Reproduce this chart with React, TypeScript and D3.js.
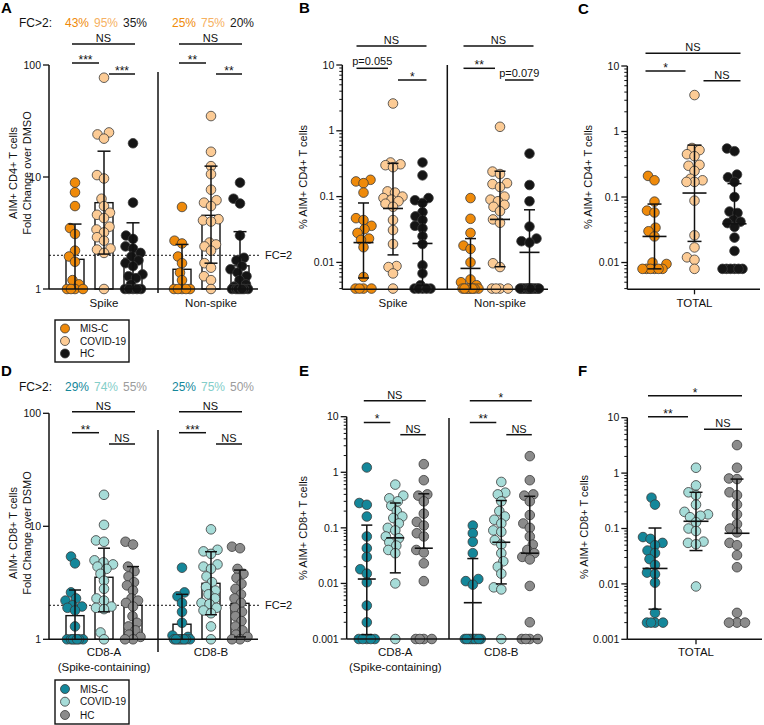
import React from "react";
import * as d3 from "d3";

// ---------------- shared ----------------
const groupNames = ["MIS-C", "COVID-19", "HC"];
const cd4Colors = ["#EF8A0A", "#FCCB95", "#151515"];
const cd8Colors = ["#14879A", "#A6DCD8", "#8B8B8B"];
const cd4PctColors = ["#EF8A0A", "#F6B162", "#1a1a1a"];
const cd8PctColors = ["#14879A", "#84CEC9", "#9C9C9C"];

// ---------------- Panel A (CD4 fold change) ----------------
const aCategories = ["Spike", "Non-spike"];
const aFcPct = [["43%", "95%", "35%"], ["25%", "75%", "20%"]];
const aSpikeMISC = [8.9, 7.3, 5.5, 3.5, 3.1, 2.2, 1.95, 1.75, 1.2, 1.1, 1, 1, 1, 1];
const aSpikeCOVID = [77, 25, 24, 22, 10.4, 9.7, 6.4, 5.5, 4.8, 4.6, 4.3, 3.6, 3.4, 3.2, 2.9, 2.7, 2.3, 2.25, 2.1, 1.0];
const aSpikeHC = [20, 5.9, 3.0, 2.8, 2.4, 2.3, 2.1, 1.95, 1.8, 1.7, 1.6, 1.35, 1.3, 1.25, 1.1, 1, 1, 1, 1, 1];
const aNonMISC = [5.4, 2.7, 2.55, 1.95, 1.7, 1.4, 1.2, 1, 1, 1, 1, 1];
const aNonCOVID = [35, 16.8, 12.5, 10.6, 7.7, 6.2, 5.9, 5.5, 4.2, 4.1, 4.0, 2.6, 2.5, 2.4, 2.2, 1.7, 1.55, 1.3, 1.2, 1.0];
const aNonHC = [8.9, 6.4, 5.8, 3.0, 1.9, 1.8, 1.6, 1.5, 1.4, 1.3, 1.2, 1.1, 1.05, 1, 1, 1, 1, 1, 1, 1];
const aMean = [[1.84, 5.9, 1.88], [1.5, 4.55, 1.61]];
const aHigh = [[3.8, 17, 3.9], [2.5, 12.5, 3.25]];
const aLow = [[0.89, 2.05, 0.9], [0.9, 1.7, 0.8]];
const aSig = [["NS", "***", "***"], ["NS", "**", "**"]];
const aTicks = [1, 10, 100];
const aTickLabels = ["1", "10", "100"];

// ---------------- Panel B (% AIM+ CD4) ----------------
const bCategories = ["Spike", "Non-spike"];
const bSpikeMISC = [0.18, 0.17, 0.16, 0.115, 0.047, 0.044, 0.036, 0.032, 0.028, 0.023, 0.022, 0.017, 0.006, 0.004, 0.004, 0.004, 0.004];
const bSpikeCOVID = [2.6, 0.33, 0.31, 0.3, 0.28, 0.12, 0.115, 0.1, 0.095, 0.09, 0.085, 0.078, 0.07, 0.044, 0.031, 0.019, 0.0088, 0.0085, 0.0068, 0.004];
const bSpikeHC = [0.33, 0.21, 0.095, 0.088, 0.08, 0.058, 0.05, 0.044, 0.036, 0.033, 0.025, 0.019, 0.009, 0.0068, 0.0045, 0.004, 0.004, 0.004, 0.004, 0.004];
const bNonMISC = [0.095, 0.046, 0.028, 0.018, 0.016, 0.01, 0.0055, 0.005, 0.0045, 0.004, 0.004, 0.004, 0.004, 0.004, 0.004, 0.004, 0.004];
const bNonCOVID = [1.15, 0.24, 0.22, 0.16, 0.155, 0.14, 0.1, 0.09, 0.085, 0.075, 0.07, 0.06, 0.045, 0.04, 0.0097, 0.0085, 0.004, 0.004, 0.004, 0.004];
const bNonHC = [0.45, 0.15, 0.085, 0.035, 0.023, 0.021, 0.02, 0.004, 0.004, 0.004, 0.004, 0.004, 0.004, 0.004, 0.004, 0.004, 0.004, 0.004, 0.004, 0.004];
const bMid = [[0.02, 0.066, 0.0194], [0.0081, 0.045, 0.0142]];
const bHigh = [[0.08, 0.32, 0.083], [0.023, 0.243, 0.063]];
const bLow = [[0.0058, 0.013, 0.0045], [0.003, 0.0086, 0.003]];
const bSig = [["NS", "p=0.055", "*"], ["NS", "**", "p=0.079"]];
const bTicks = [0.01, 0.1, 1, 10];
const bTickLabels = ["0.01", "0.1", "1", "10"];

// ---------------- Panel C (% AIM+ CD4 total) ----------------
const cCategories = ["TOTAL"];
const cMISC = [0.21, 0.18, 0.085, 0.062, 0.058, 0.034, 0.03, 0.025, 0.01, 0.0095, 0.008, 0.008, 0.008, 0.008, 0.008, 0.008];
const cCOVID = [3.6, 0.56, 0.52, 0.45, 0.42, 0.31, 0.3, 0.25, 0.19, 0.18, 0.17, 0.17, 0.088, 0.026, 0.017, 0.012, 0.011, 0.008];
const cHC = [0.55, 0.5, 0.22, 0.2, 0.17, 0.1, 0.06, 0.057, 0.045, 0.042, 0.04, 0.035, 0.024, 0.015, 0.008, 0.008, 0.008, 0.008, 0.008, 0.008];
const cMid = [[0.025, 0.115, 0.039]];
const cHigh = [[0.078, 0.62, 0.16]];
const cLow = [[0.008, 0.021, null]];
const cSig = [["NS", "*", "NS"]];

// ---------------- Panel D (CD8 fold change) ----------------
const dCategories = ["CD8-A", "CD8-B"];
const dCategoryLabels = [["CD8-A", "(Spike-containing)"], ["CD8-B"]];
const dFcPct = [["29%", "74%", "55%"], ["25%", "75%", "50%"]];
const dAMISC = [5.4, 4.7, 2.6, 2.3, 2.2, 2.0, 1.95, 1.9, 1.8, 1.3, 1, 1, 1, 1, 1, 1, 1];
const dACOVID = [19, 10.3, 7.5, 7.3, 5.0, 4.8, 4.6, 4.4, 4.2, 3.8, 3.3, 2.8, 2.3, 2.2, 1.95, 1.9, 1.85, 1.15, 1.0];
const dAHC = [7.3, 6.9, 4.4, 4.0, 3.6, 3.2, 3.0, 2.7, 2.3, 2.2, 2.1, 1.95, 1.6, 1.4, 1.3, 1.2, 1.1, 1.05, 1, 1];
const dBMISC = [4.3, 2.6, 2.4, 2.1, 1.75, 1.4, 1.08, 1.05, 1, 1, 1, 1, 1, 1, 1, 1];
const dBCOVID = [9.4, 6.2, 6.0, 5.7, 4.6, 4.4, 4.2, 3.6, 3.2, 2.9, 2.7, 2.5, 2.3, 2.1, 2.05, 1.9, 1.8, 1.7, 1.3, 1.0];
const dBHC = [6.6, 6.4, 4.2, 3.8, 3.5, 3.1, 2.8, 2.5, 2.3, 2.1, 1.9, 1.75, 1.6, 1.45, 1.3, 1.2, 1.1, 1.05, 1, 1];
const dMean = [[1.62, 3.54, 2.0], [1.36, 3.13, 2.08]];
const dHigh = [[2.73, 6.4, 4.4], [2.5, 5.96, 4.1]];
const dLow = [[0.96, 1.75, 0.9], [0.74, 1.65, 1.05]];
const dSig = [["NS", "**", "NS"], ["NS", "***", "NS"]];

// ---------------- Panel E (% AIM+ CD8) ----------------
const eAMISC = [1.22, 0.28, 0.26, 0.16, 0.07, 0.043, 0.03, 0.018, 0.015, 0.0105, 0.004, 0.002, 0.001, 0.001, 0.001, 0.001, 0.001];
const eACOVID = [0.6, 0.38, 0.34, 0.3, 0.25, 0.2, 0.16, 0.15, 0.12, 0.1, 0.09, 0.07, 0.065, 0.055, 0.048, 0.04, 0.035, 0.01, 0.001];
const eAHC = [1.4, 0.72, 0.4, 0.38, 0.3, 0.18, 0.128, 0.11, 0.08, 0.07, 0.04, 0.036, 0.023, 0.011, 0.001, 0.001, 0.001, 0.001];
const eBMISC = [0.11, 0.08, 0.056, 0.035, 0.012, 0.011, 0.0095, 0.001, 0.001, 0.001, 0.001, 0.001, 0.001, 0.001, 0.001, 0.001];
const eBCOVID = [0.67, 0.43, 0.4, 0.3, 0.2, 0.16, 0.14, 0.12, 0.09, 0.085, 0.06, 0.05, 0.035, 0.025, 0.02, 0.015, 0.0085, 0.0078, 0.001];
const eBHC = [1.95, 0.72, 0.4, 0.38, 0.3, 0.17, 0.12, 0.1, 0.07, 0.05, 0.04, 0.035, 0.03, 0.027, 0.009, 0.002, 0.001, 0.001, 0.001, 0.001];
const eMid = [[0.012, 0.066, 0.043], [0.0045, 0.055, 0.035]];
const eHigh = [[0.112, 0.28, 0.41], [0.028, 0.31, 0.37]];
const eLow = [[0.0012, 0.0155, null], [0.001, 0.0098, null]];
const eSig = [["NS", "*", "NS"], ["*", "**", "NS"]];
const eTicks = [0.001, 0.01, 0.1, 1, 10];
const eTickLabels = ["0.001", "0.01", "0.1", "1", "10"];

// ---------------- Panel F (% AIM+ CD8 total) ----------------
const fMISC = [0.36, 0.27, 0.07, 0.065, 0.055, 0.05, 0.04, 0.036, 0.028, 0.022, 0.016, 0.015, 0.0105, 0.003, 0.002, 0.002, 0.002, 0.002];
const fCOVID = [1.25, 0.6, 0.45, 0.4, 0.27, 0.2, 0.18, 0.17, 0.16, 0.13, 0.1, 0.09, 0.058, 0.055, 0.052, 0.009];
const fHC = [3.2, 1.25, 0.8, 0.78, 0.45, 0.4, 0.27, 0.18, 0.12, 0.1, 0.085, 0.055, 0.05, 0.033, 0.02, 0.003, 0.002, 0.002, 0.002];
const fMid = [[0.019, 0.135, 0.082]];
const fHigh = [[0.102, 0.45, 0.78]];
const fLow = [[0.0035, 0.04, null]];
const fSig = [["*", "**", "NS"]];

// ================= layout / rendering =================
const FONT = "'Liberation Sans', Arial, Helvetica, sans-serif";

type Panel = {
  letter: string;
  letterPos: [number, number];
  yDomain: [number, number];
  yRange: [number, number];
  xAxis: [number, number];
  catNames: string[];
  catLabels: string[][];
  catRange: [number, number];
  spread: number;
  values: number[][][];
  centers: number[][];
  highs: (number | null)[][];
  lows: (number | null)[][];
  kind: "bar" | "median";
  colors: string[];
  tickValues: number[];
  tickLabels: string[];
  minor: boolean;
  divider: [number, number, number] | null;
  sigLabels: string[][];
  sigLevels: [number, number, number];
  sigPad: [number, number, number];
  yLabel: string[];
  yLabelX: number[];
  yLabelY: number;
  catLabelY: number;
  fc: { y: number; pct: string[][]; colors: string[] } | null;
  xTick: boolean;
  maxOff: number;
  capW: number;
  medW: number;
};

function swarmOffsets(ys: number[], r: number, maxOff: number): number[] {
  const idx = ys.map((_, i) => i).sort((a, b) => ys[b] - ys[a]);
  const placed: { x: number; y: number }[] = [];
  const offs = new Array(ys.length).fill(0);
  const minD = 2 * r * 0.8;
  for (const i of idx) {
    const y = ys[i];
    let best = 0;
    let bestScore = -Infinity;
    let found = false;
    for (let k = 0; k <= maxOff * 2; k++) {
      const cands = k === 0 ? [0] : [-k / 2, k / 2];
      for (const c of cands) {
        let md = Infinity;
        for (const p of placed) {
          const d = Math.hypot(p.x - c, p.y - y);
          if (d < md) md = d;
        }
        if (md >= minD) {
          best = c;
          found = true;
          break;
        }
        if (md > bestScore + 0.01) {
          bestScore = md;
          best = c;
        }
      }
      if (found) break;
    }
    offs[i] = best;
    placed.push({ x: best, y });
  }
  return offs;
}

function PanelView({ p }: { p: Panel }) {
  const y = d3.scaleLog().domain(p.yDomain).range(p.yRange);
  const xCat = d3.scalePoint<string>().domain(p.catNames).range(p.catRange);
  const xGrp = d3.scalePoint<string>().domain(groupNames).range([-p.spread, p.spread]);
  const [x0, x1] = p.xAxis;
  const yb = p.yRange[0];
  const yt = p.yRange[1];
  const dMin = p.yDomain[0];
  const dMax = p.yDomain[1];
  const R = 4.8;
  const els: React.ReactNode[] = [];
  const cx = (ci: number, gi: number) => (xCat(p.catNames[ci]) as number) + (xGrp(groupNames[gi]) as number);

  if (p.kind === "bar") {
    p.centers.forEach((row, ci) =>
      row.forEach((m, gi) => {
        const c = cx(ci, gi);
        els.push(
          <rect key={`bar${ci}${gi}`} x={c - 9} y={y(m)} width={18} height={yb - y(m)}
            fill="#fff" stroke="#111" strokeWidth={1.4} />
        );
      })
    );
  }
  if (p.fc) {
    els.push(
      <line key="fcline" x1={x0} x2={x1 + 3} y1={y(2)} y2={y(2)} stroke="#111" strokeWidth={1} strokeDasharray="2,2" />
    );
    els.push(
      <text key="fclab" x={x1 + 7} y={y(2) + 4} fontSize={11} fontFamily={FONT} fill="#111">FC=2</text>
    );
  }
  p.values.forEach((cat, ci) =>
    cat.forEach((vals, gi) => {
      const c = cx(ci, gi);
      const ys = vals.map((v) => y(Math.max(v, dMin)));
      const offs = swarmOffsets(ys, R, p.maxOff);
      vals.forEach((v, k) => {
        els.push(
          <circle key={`d${ci}${gi}${k}`} cx={c + offs[k]} cy={ys[k]} r={R}
            fill={p.colors[gi]} stroke="#3a3a3a" strokeWidth={0.8} />
        );
      });
    })
  );
  p.centers.forEach((row, ci) =>
    row.forEach((m, gi) => {
      const c = cx(ci, gi);
      const hi = p.highs[ci][gi];
      const lo = p.lows[ci][gi];
      const yTop = hi != null ? y(hi) : y(m);
      const yLow = lo != null ? y(Math.max(lo, dMin)) : y(m);
      els.push(<line key={`ev${ci}${gi}`} x1={c} x2={c} y1={yTop} y2={yLow} stroke="#111" strokeWidth={1.5} />);
      if (hi != null)
        els.push(<line key={`eh${ci}${gi}`} x1={c - p.capW / 2} x2={c + p.capW / 2} y1={yTop} y2={yTop} stroke="#111" strokeWidth={1.5} />);
      if (lo != null && lo > dMin * 1.02)
        els.push(<line key={`el${ci}${gi}`} x1={c - p.capW / 2} x2={c + p.capW / 2} y1={yLow} y2={yLow} stroke="#111" strokeWidth={1.5} />);
      if (p.kind === "median")
        els.push(<line key={`em${ci}${gi}`} x1={c - p.medW / 2} x2={c + p.medW / 2} y1={y(m)} y2={y(m)} stroke="#111" strokeWidth={1.6} />);
    })
  );
  els.push(<line key="yax" x1={x0} x2={x0} y1={yb} y2={yt} stroke="#111" strokeWidth={1.5} />);
  els.push(<line key="xax" x1={x0} x2={x1} y1={yb} y2={yb} stroke="#111" strokeWidth={1.5} />);
  p.tickValues.forEach((t, i) => {
    els.push(<line key={`t${i}`} x1={x0 - 6} x2={x0} y1={y(t)} y2={y(t)} stroke="#111" strokeWidth={1.3} />);
    els.push(
      <text key={`tl${i}`} x={x0 - 8} y={y(t)} dy="0.35em" textAnchor="end" fontSize={10.5} fontFamily={FONT} fill="#111">
        {p.tickLabels[i]}
      </text>
    );
  });
  if (p.minor) {
    const e0 = Math.floor(Math.log10(dMin));
    const e1 = Math.ceil(Math.log10(dMax));
    for (let e = e0; e <= e1; e++) {
      for (let m = 2; m <= 9; m++) {
        const v = m * Math.pow(10, e);
        if (v >= dMin * 0.999 && v < dMax) {
          els.push(<line key={`mt${e}_${m}`} x1={x0 - 3} x2={x0} y1={y(v)} y2={y(v)} stroke="#111" strokeWidth={1} />);
        }
      }
    }
  }
  if (p.xTick) {
    p.catNames.forEach((c, i) => {
      const xx = xCat(c) as number;
      els.push(<line key={`xt${i}`} x1={xx} x2={xx} y1={yb} y2={yb + 5} stroke="#111" strokeWidth={1.3} />);
    });
  }
  if (p.divider) {
    const [dx, dy1, dy2] = p.divider;
    els.push(<line key="div" x1={dx} x2={dx} y1={dy1} y2={dy2} stroke="#111" strokeWidth={1.5} />);
  }
  p.catNames.forEach((c, ci) => {
    p.catLabels[ci].forEach((line, li) => {
      els.push(
        <text key={`cl${ci}${li}`} x={xCat(c) as number} y={p.catLabelY + li * 15} textAnchor="middle" fontSize={11.5} fontFamily={FONT} fill="#111">
          {line}
        </text>
      );
    });
  });
  const [padL, padR, inner] = p.sigPad;
  p.sigLabels.forEach((labs, ci) => {
    const c0 = cx(ci, 0), c1 = cx(ci, 1), c2 = cx(ci, 2);
    const segs: [number, number, number, string][] = [
      [c0 - padL, c2 + padR, p.sigLevels[0], labs[0]],
      [c0 - padL, c1 - inner, p.sigLevels[1], labs[1]],
      [c1 + inner, c2 + padR, p.sigLevels[2], labs[2]],
    ];
    segs.forEach(([sx1, sx2, sy, lab], k) => {
      els.push(<line key={`sl${ci}${k}`} x1={sx1} x2={sx2} y1={sy} y2={sy} stroke="#111" strokeWidth={1.5} />);
      const isStar = lab.startsWith("*");
      const isP = lab.startsWith("p");
      els.push(
        <text key={`st${ci}${k}`} x={(sx1 + sx2) / 2} y={isStar ? sy + 0.8 : isP ? sy - 3 : sy - 2.2}
          textAnchor="middle" fontSize={isStar ? 12 : 11} fontFamily={FONT} fill="#111">
          {lab}
        </text>
      );
    });
  });
  if (p.fc) {
    els.push(
      <text key="fch" x={19} y={p.fc.y} fontSize={12} fontFamily={FONT} fill="#111">FC&gt;2:</text>
    );
    p.fc.pct.forEach((row, ci) =>
      row.forEach((t, gi) => {
        els.push(
          <text key={`fp${ci}${gi}`} x={cx(ci, gi) + 2} y={p.fc!.y} textAnchor="middle" fontSize={12} fontFamily={FONT} fill={p.fc!.colors[gi]}>
            {t}
          </text>
        );
      })
    );
  }
  p.yLabel.forEach((t, i) => {
    els.push(
      <text key={`yl${i}`} transform={`translate(${p.yLabelX[i]},${p.yLabelY}) rotate(-90)`} textAnchor="middle" fontSize={11} fontFamily={FONT} fill="#111">
        {t}
      </text>
    );
  });
  els.push(
    <text key="letter" x={p.letterPos[0]} y={p.letterPos[1]} fontSize={15} fontWeight="bold" fontFamily={FONT} fill="#000">
      {p.letter}
    </text>
  );
  return <g>{els}</g>;
}

function Legend({ x, y, w, h, rows, colors }: { x: number; y: number; w: number; h: number; rows: number[]; colors: string[] }) {
  return (
    <g>
      <rect x={x} y={y} width={w} height={h} fill="#fff" stroke="#111" strokeWidth={1.4} />
      {groupNames.map((g, i) => (
        <g key={g}>
          <circle cx={x + 10} cy={rows[i]} r={4.5} fill={colors[i]} stroke="#3a3a3a" strokeWidth={0.8} />
          <text x={x + 25} y={rows[i]} dy="0.35em" fontSize={10} fontFamily={FONT} fill="#111">{g}</text>
        </g>
      ))}
    </g>
  );
}

const panels: Panel[] = [
  {
    letter: "A", letterPos: [1, 13],
    yDomain: [1, 100], yRange: [289, 65], xAxis: [49, 258],
    catNames: aCategories, catLabels: aCategories.map((c) => [c]), catRange: [104, 211], spread: 29,
    values: [[aSpikeMISC, aSpikeCOVID, aSpikeHC], [aNonMISC, aNonCOVID, aNonHC]],
    centers: aMean, highs: aHigh, lows: aLow, kind: "bar", colors: cd4Colors,
    tickValues: aTicks, tickLabels: aTickLabels, minor: false,
    divider: [158, 72, 293],
    sigLabels: aSig, sigLevels: [44, 63, 74], sigPad: [3, 2, 5],
    yLabel: ["AIM+ CD4+ T cells", "Fold Change over DMSO"], yLabelX: [17.2, 30.6], yLabelY: 173,
    catLabelY: 307, fc: { y: 27, pct: aFcPct, colors: cd4PctColors }, xTick: false, maxOff: 9.5, capW: 13, medW: 0,
  },
  {
    letter: "B", letterPos: [299, 13],
    yDomain: [0.0039, 10], yRange: [289.3, 65], xAxis: [342.3, 548],
    catNames: bCategories, catLabels: bCategories.map((c) => [c]), catRange: [393, 500], spread: 29.5,
    values: [[bSpikeMISC, bSpikeCOVID, bSpikeHC], [bNonMISC, bNonCOVID, bNonHC]],
    centers: bMid, highs: bHigh, lows: bLow, kind: "median", colors: cd4Colors,
    tickValues: bTicks, tickLabels: bTickLabels, minor: true,
    divider: [447.3, 65, 289.3],
    sigLabels: bSig, sigLevels: [46, 68.3, 80], sigPad: [7, 4, 5],
    yLabel: ["% AIM+ CD4+ T cells"], yLabelX: [307], yLabelY: 177,
    catLabelY: 307, fc: null, xTick: false, maxOff: 9.5, capW: 11, medW: 20,
  },
  {
    letter: "C", letterPos: [578, 14],
    yDomain: [0.0039, 10], yRange: [289.3, 66], xAxis: [627.3, 760],
    catNames: cCategories, catLabels: [["TOTAL"]], catRange: [694.5, 694.5], spread: 40,
    values: [[cMISC, cCOVID, cHC]],
    centers: cMid, highs: cHigh, lows: cLow, kind: "median", colors: cd4Colors,
    tickValues: bTicks, tickLabels: bTickLabels, minor: true,
    divider: null,
    sigLabels: cSig, sigLevels: [53.3, 71, 80.7], sigPad: [9, 6, 9],
    yLabel: ["% AIM+ CD4+ T cells"], yLabelX: [592], yLabelY: 177,
    catLabelY: 307, fc: null, xTick: true, maxOff: 12, capW: 14, medW: 24,
  },
  {
    letter: "D", letterPos: [1, 376],
    yDomain: [1, 100], yRange: [639.3, 413.3], xAxis: [49, 258],
    catNames: dCategories, catLabels: dCategoryLabels, catRange: [104, 211], spread: 29,
    values: [[dAMISC, dACOVID, dAHC], [dBMISC, dBCOVID, dBHC]],
    centers: dMean, highs: dHigh, lows: dLow, kind: "bar", colors: cd8Colors,
    tickValues: aTicks, tickLabels: aTickLabels, minor: false,
    divider: [158, 430, 652],
    sigLabels: dSig, sigLevels: [411.7, 432.7, 444], sigPad: [3, 2, 5],
    yLabel: ["AIM+ CD8+ T cells", "Fold Change over DSMO"], yLabelX: [17.2, 30.6], yLabelY: 533,
    catLabelY: 655.5, fc: { y: 391, pct: dFcPct, colors: cd8PctColors }, xTick: false, maxOff: 9.5, capW: 12, medW: 0,
  },
  {
    letter: "E", letterPos: [299, 376],
    yDomain: [0.001, 10], yRange: [639, 416.7], xAxis: [346.7, 540],
    catNames: dCategories, catLabels: dCategoryLabels, catRange: [395.3, 501.3], spread: 28.5,
    values: [[eAMISC, eACOVID, eAHC], [eBMISC, eBCOVID, eBHC]],
    centers: eMid, highs: eHigh, lows: eLow, kind: "median", colors: cd8Colors,
    tickValues: eTicks, tickLabels: eTickLabels, minor: true,
    divider: [449, 418, 639],
    sigLabels: eSig, sigLevels: [400.7, 422.5, 434.7], sigPad: [3, 2, 5],
    yLabel: ["% AIM+ CD8+ T cells"], yLabelX: [307], yLabelY: 528,
    catLabelY: 655.5, fc: null, xTick: false, maxOff: 9.5, capW: 11, medW: 18,
  },
  {
    letter: "F", letterPos: [578, 376],
    yDomain: [0.001, 10], yRange: [639.3, 417.7], xAxis: [627.3, 762],
    catNames: cCategories, catLabels: [["TOTAL"]], catRange: [696, 696], spread: 41,
    values: [[fMISC, fCOVID, fHC]],
    centers: fMid, highs: fHigh, lows: fLow, kind: "median", colors: cd8Colors,
    tickValues: eTicks, tickLabels: eTickLabels, minor: true,
    divider: null,
    sigLabels: fSig, sigLevels: [395.7, 416.7, 429.3], sigPad: [7, 5, 8],
    yLabel: ["% AIM+ CD8+ T cells"], yLabelX: [588], yLabelY: 527,
    catLabelY: 656, fc: null, xTick: true, maxOff: 12, capW: 13, medW: 25,
  },
];

export default function App() {
  return (
    <svg width={764} height={725} viewBox="0 0 764 725"
      style={{ position: "absolute", left: 0, top: 0, background: "#fff" }}>
      <rect x={0} y={0} width={764} height={725} fill="#fff" />
      {panels.map((p) => (
        <PanelView key={p.letter} p={p} />
      ))}
      <Legend x={55} y={320} w={74} h={42} rows={[328.5, 341, 353.5]} colors={cd4Colors} />
      <Legend x={55} y={680} w={74} h={44} rows={[689, 701.7, 715]} colors={cd8Colors} />
    </svg>
  );
}
